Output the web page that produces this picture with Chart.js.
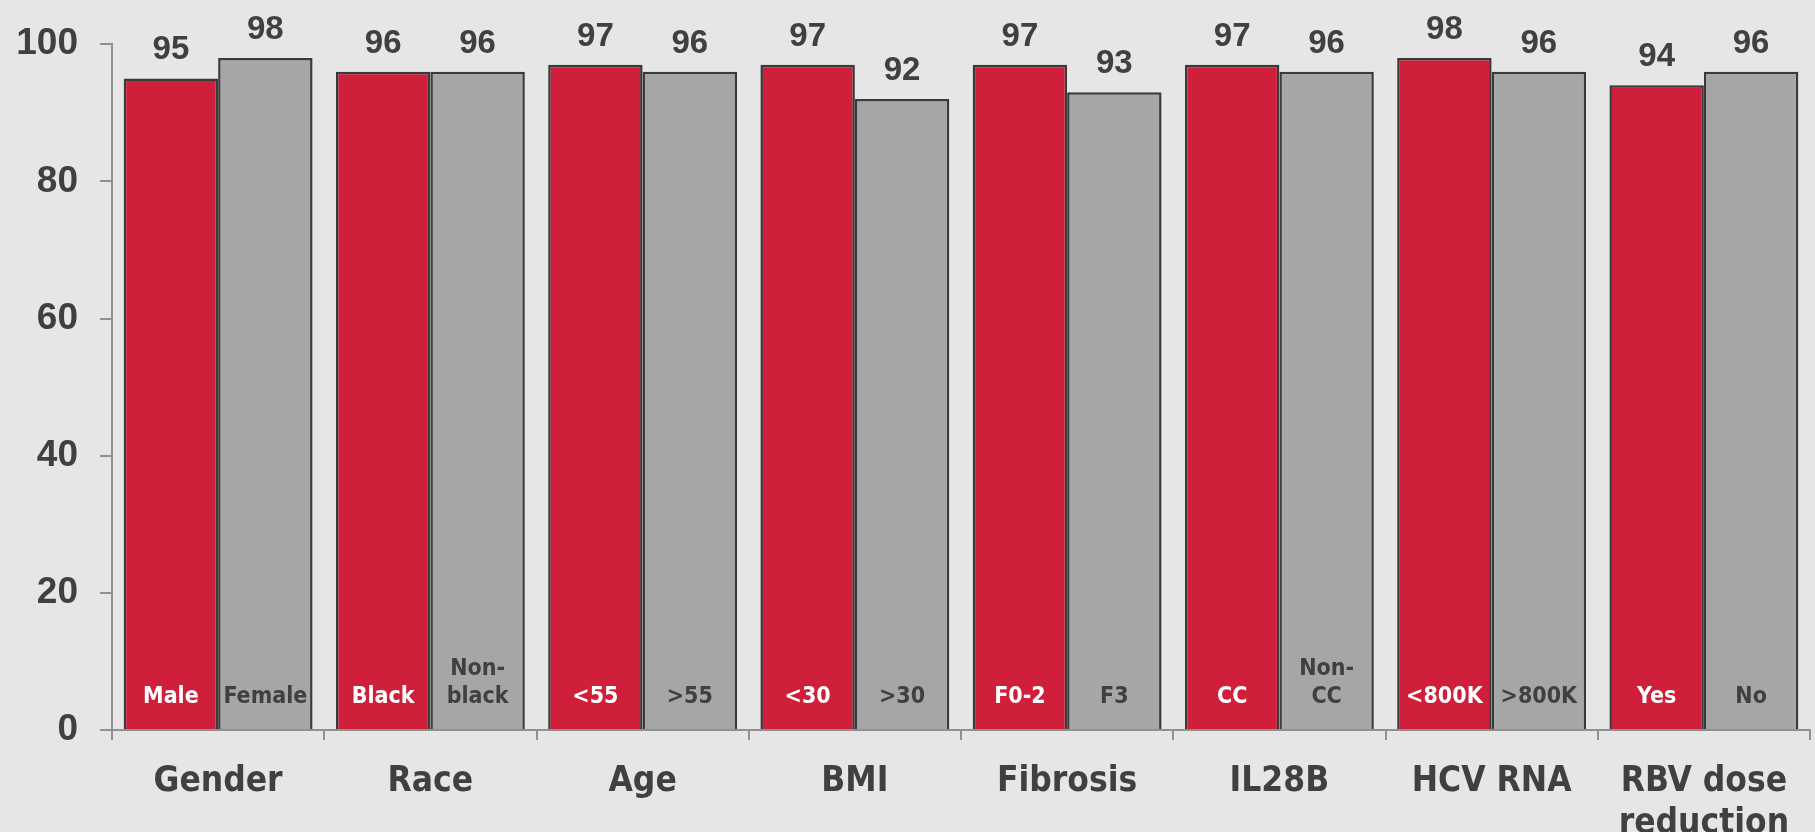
<!DOCTYPE html>
<html>
<head>
<meta charset="utf-8">
<script src="https://cdn.jsdelivr.net/npm/chart.js@4.4.0/dist/chart.umd.min.js"></script>
<style>
  html, body { margin: 0; padding: 0; background: #e6e6e6; }
  #wrap { width: 1815px; height: 832px; }
</style>
</head>
<body>
<div id="wrap"><canvas id="myChart"></canvas></div>
<script>
const categories = ['Gender', 'Race', 'Age', 'BMI', 'Fibrosis', 'IL28B', 'HCV RNA', ['RBV dose', 'reduction']];
const redValues = [95, 96, 97, 97, 97, 97, 98, 94];
const grayValues = [98, 96, 96, 92, 93, 96, 96, 96];
const redLabels = [['Male'], ['Black'], ['<55'], ['<30'], ['F0-2'], ['CC'], ['<800K'], ['Yes']];
const grayLabels = [['Female'], ['Non-', 'black'], ['>55'], ['>30'], ['F3'], ['Non-', 'CC'], ['>800K'], ['No']];
const yTicks = [0, 20, 40, 60, 80, 100];

const textDark = '#404040';
const narrow = '"Liberation Sans Narrow", "DejaVu Sans Condensed", "Liberation Sans", sans-serif';
const wide = '"Liberation Sans", Arial, sans-serif';

// value labels above bars + short labels inside the bars
const barLabels = {
    id: 'barLabels',
    afterDatasetsDraw(chart) {
        const ctx = chart.ctx;
        chart.data.datasets.forEach((ds, i) => {
            const meta = chart.getDatasetMeta(i);
            const inner = i === 0 ? redLabels : grayLabels;
            meta.data.forEach((bar, j) => {
                ctx.save();
                ctx.textAlign = 'center';
                ctx.textBaseline = 'alphabetic';
                ctx.fillStyle = textDark;
                ctx.font = 'bold 33px ' + wide;
                ctx.fillText(ds.data[j], bar.x, bar.y - 19);
                ctx.fillStyle = i === 0 ? '#ffffff' : textDark;
                ctx.font = 'bold 23px ' + narrow;
                const lines = inner[j];
                for (let k = 0; k < lines.length; k++) {
                    const fromBottom = lines.length - 1 - k;
                    ctx.fillText(lines[k], bar.x, bar.base - 26 - fromBottom * 28);
                }
                ctx.restore();
            });
        });
    }
};

const data = {
    labels: categories,
    datasets: [{
        data: redValues,
        backgroundColor: '#cf1f3a',
        borderColor: '#3a3a3a',
        borderWidth: 2.5
    }, {
        data: grayValues,
        backgroundColor: '#a6a6a6',
        borderColor: '#3a3a3a',
        borderWidth: 2.5
    }]
};

const config = {
    type: 'bar',
    data: data,
    options: {
        responsive: true,
        maintainAspectRatio: false,
        animation: false,
        layout: { padding: { top: 40, right: 5, left: 0, bottom: 0 } },
        plugins: {
            legend: false,
            tooltip: { enabled: false }
        },
        datasets: {
            bar: { categoryPercentage: 0.89, barPercentage: 1.0 }
        },
        scales: {
            x: {
                offset: true,
                grid: {
                    offset: true,
                    drawOnChartArea: false,
                    tickLength: 10,
                    color: '#909090',
                    lineWidth: 2
                },
                border: { color: '#909090', width: 2 },
                ticks: {
                    color: textDark,
                    font: { family: narrow, size: 35, weight: 'bold', lineHeight: 1.2 },
                    padding: 21,
                    maxRotation: 0,
                    autoSkip: false
                },
                afterFit(scale) { scale.height = 102; }
            },
            y: {
                min: 0,
                max: 100,
                afterBuildTicks(scale) { scale.ticks = yTicks.map(v => ({ value: v })); },
                grid: {
                    drawOnChartArea: false,
                    tickLength: 12,
                    color: '#909090',
                    lineWidth: 2
                },
                border: { color: '#909090', width: 2 },
                ticks: {
                    color: textDark,
                    font: { family: wide, size: 37, weight: 'bold' },
                    padding: 22
                },
                afterFit(scale) { scale.width = 112; }
            }
        }
    },
    plugins: [barLabels]
};

const myChart = new Chart(document.getElementById('myChart'), config);
</script>
</body>
</html>
